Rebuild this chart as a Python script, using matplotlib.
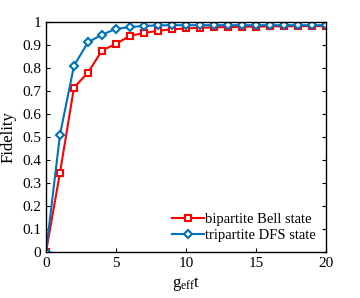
import matplotlib
matplotlib.use("Agg")
import matplotlib.pyplot as plt
import numpy as np

plt.rcParams['font.family'] = ['Liberation Serif', 'DejaVu Serif']
plt.rcParams['mathtext.fontset'] = 'custom'
plt.rcParams['mathtext.rm'] = 'Liberation Serif'

t = np.arange(0, 21)
bell = [0, 0.345, 0.715, 0.78, 0.876, 0.905, 0.94, 0.952, 0.962, 0.968, 0.972,
        0.975, 0.977, 0.978, 0.979, 0.98, 0.981, 0.981, 0.982, 0.982, 0.982]
dfs = [0, 0.51, 0.81, 0.912, 0.945, 0.97, 0.978, 0.983, 0.985, 0.986, 0.986,
       0.986, 0.986, 0.986, 0.986, 0.986, 0.986, 0.986, 0.986, 0.986, 0.986]

fig = plt.figure(figsize=(3.6, 2.98), dpi=100)
ax = fig.add_axes([46/360, 46/298, 280/360, 230/298])

ax.plot(t, bell, color='#ff0000', lw=1.5, marker='s', ms=4.5, mfc='white',
        mew=1.5, label='bipartite Bell state')
ax.plot(t, dfs, color='#0072bd', lw=1.5, marker='D', ms=4.5, mfc='white',
        mew=1.5, label='tripartite DFS state')

ax.set_xlim(0, 20)
ax.set_ylim(0, 1)
ax.set_xticks([0, 5, 10, 15, 20])
ax.set_yticks(np.round(np.arange(0, 1.01, 0.1), 1))
ax.set_yticklabels(['0', '0.1', '0.2', '0.3', '0.4', '0.5', '0.6', '0.7', '0.8', '0.9', '1'])
ax.tick_params(direction='in', length=3, labelsize=11, top=False, right=True)
ax.set_xlabel(r'$\mathrm{g_{eff}t}$', fontsize=12)
ax.set_ylabel('Fidelity', fontsize=12)
for s in ax.spines.values():
    s.set_linewidth(1.0)

ax.legend(loc='lower right', fontsize=10.5, frameon=False, handlelength=2.2,
          handletextpad=0.1, borderaxespad=0.3, labelspacing=0.2)

fig.savefig('out.png', dpi=100)
